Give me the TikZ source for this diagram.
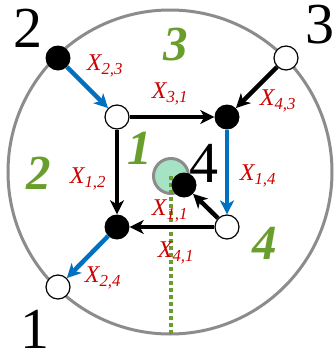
\documentclass[tikz,border=0pt]{standalone}
\usepackage{fontspec}
\setmainfont{Liberation Serif}
\usepackage{tikz}
\usetikzlibrary{arrows.meta}
\definecolor{ringc}{HTML}{8C8C8C}
\definecolor{bluec}{HTML}{0070C0}
\definecolor{redc}{HTML}{CC0000}
\definecolor{grnc}{HTML}{6A9E2C}
\definecolor{mint}{HTML}{A6E3C4}
\newcommand{\xl}[2]{X\textsubscript{#1,#2}}
\tikzset{
  ar/.style={-{Stealth[length=14pt,width=14pt,inset=4pt]},line width=4.5pt},
  arb/.style={ar,bluec},
  blk/.style={circle,fill=black,minimum size=25pt,inner sep=0pt},
  wht/.style={circle,draw=black,line width=1.2pt,fill=white,minimum size=24pt,inner sep=0pt},
  lab/.style={text=redc,font=\fontsize{24}{24}\selectfont\itshape},
  big/.style={inner sep=0pt,font=\fontsize{58}{58}\selectfont},
  reg/.style={text=grnc,font=\fontsize{49}{49}\selectfont\bfseries\itshape}
}
\begin{document}
\begin{tikzpicture}[x=1pt,y=-1pt]
\useasboundingbox (0,0) rectangle (335,362);
% ring and hub
\node[circle,draw=ringc,line width=3pt,minimum size=324pt,inner sep=0pt] (ring) at (170,172) {};
\node[circle,draw=ringc,line width=3pt,fill=mint,minimum size=35pt,inner sep=0pt] (hub) at (171,176) {};
\draw[grnc,line width=4pt,dash pattern=on 4pt off 3pt] (hub.center) -- (hub.center |- ring.south);
% outer and inner points
\node[blk] (o2) at (58,58) {};
\node[wht] (o3) at (286,58) {};
\node[wht] (o1) at (58,287) {};
\node[wht] (a) at (117,117) {};
\node[blk] (b) at (227,117) {};
\node[wht] (c) at (227,227) {};
\node[blk] (d) at (117,227) {};
\node[blk] (e) at (184,185) {};
\draw[arb] (o2) -- (a);
\draw[ar] (a) -- (b);
\draw[ar] (o3) -- (b);
\draw[arb] (b) -- (c);
\draw[ar] (c) -- (e);
\draw[ar] (c) -- (d);
\draw[ar] (a) -- (d);
\draw[arb] (d) -- (o1);
% labels
\foreach \i/\j/\x/\y in {2/3/105/66,3/1/170/94,4/3/278/101,1/2/88/179,1/4/258/176,1/1/170/211,4/1/176/253,2/4/103/278}
  \node[lab] (x\i\j) at (\x,\y) {\xl{\i}{\j}};
\node[big] (l2) at (28,28) {2};
\node[big] (l3) at (320,25) {3};
\node[big] (l1) at (35,329) {1};
\node[big] (l4) at (204,163) {4};
\node[reg] (r3) at (176,45) {3};
\node[reg] (r1) at (140,148) {1};
\node[reg] (r2) at (39,173) {2};
\node[reg] (r4) at (265,243) {4};
\end{tikzpicture}
\end{document}
